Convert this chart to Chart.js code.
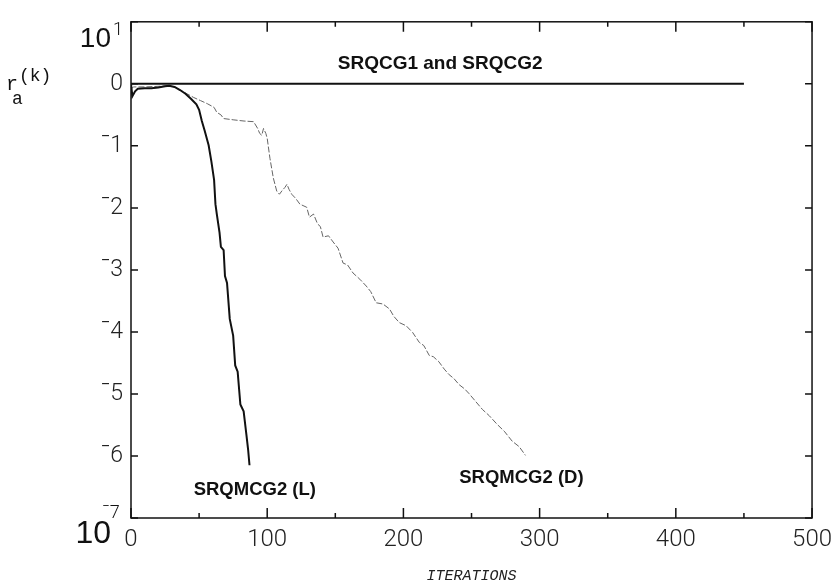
<!DOCTYPE html>
<html>
<head>
<meta charset="utf-8">
<script src="https://cdn.jsdelivr.net/npm/chart.js@4"></script>
<style>
  html, body { margin: 0; padding: 0; background: #fff; }
  canvas { display: block; }
</style>
</head>
<body>
<canvas id="chart" width="840" height="587"></canvas>
<script>
// [iteration, log10 of residual]
const seriesCG = [[0, 0], [100, 0], [200, 0], [300, 0], [450, 0]];

const seriesL = [
  [0, 0], [1, -0.2], [3, -0.12], [5, -0.08], [10, -0.07], [15, -0.07], [20, -0.06],
  [25, -0.04], [28, -0.03], [32, -0.05], [36, -0.1], [40, -0.16], [44, -0.24],
  [48, -0.33], [50, -0.42], [52, -0.6], [54, -0.75], [57, -0.99], [59, -1.25],
  [61, -1.55], [62, -1.94], [63, -2.1], [65, -2.4], [66, -2.63], [68, -2.68],
  [69, -3.1], [70.5, -3.21], [72.5, -3.79], [75, -4.06], [76.5, -4.54], [78.3, -4.64],
  [80.3, -5.17], [82.7, -5.28], [84.7, -5.65], [86, -5.9], [87, -6.15]
];

const seriesD = [
  [0, -0.08], [2, -0.05], [10, -0.05], [20, -0.04],
  [28, -0.03], [32, -0.05], [36, -0.1], [41, -0.16], [46, -0.22], [51, -0.27],
  [56, -0.32], [61, -0.38], [63, -0.46], [66, -0.5], [68, -0.56], [75, -0.58],
  [83, -0.6], [90, -0.61], [93, -0.72], [94.5, -0.8], [96, -0.83], [97.3, -0.72],
  [99, -0.8], [100, -0.88], [102, -1.2], [104.5, -1.52], [107, -1.73], [109, -1.78],
  [111, -1.72], [113, -1.67], [114.5, -1.62], [116, -1.7], [118, -1.78], [121, -1.85],
  [124, -1.94], [127, -1.97], [129, -1.99], [131, -2.15], [134, -2.1], [137, -2.26],
  [139, -2.3], [141, -2.47], [145, -2.45], [148.4, -2.55], [152, -2.65], [155.7, -2.89],
  [159, -2.92], [163, -3.05], [168, -3.15], [172.7, -3.26], [176, -3.35], [180, -3.53],
  [185, -3.55], [189.8, -3.63], [193, -3.75], [197, -3.85], [202, -3.9], [206.8, -4.01],
  [211.7, -4.17], [215, -4.22], [219, -4.38], [222, -4.4], [226, -4.48], [230, -4.6],
  [233.6, -4.69], [237, -4.75], [240.9, -4.85], [245, -4.92], [248, -4.99], [253, -5.12],
  [258, -5.25], [263, -5.35], [268.8, -5.49], [274, -5.6], [279.8, -5.76], [285, -5.85],
  [289.6, -5.99]
];

const xMajorTicks = [0, 100, 200, 300, 400, 500];
const xMinorTicks = [50, 150, 250, 350, 450];
const yTickExps = [1, 0, -1, -2, -3, -4, -5, -6, -7];
const yTickLabels = ['1', '0', '\u00AF1', '\u00AF2', '\u00AF3', '\u00AF4', '\u00AF5', '\u00AF6', '\u00AF7'];

// curve labels, anchored in data space: [text, iteration, log10 residual]
const curveLabels = [
  ['SRQCG1 and SRQCG2', 227, 0.33],
  ['SRQMCG2 (L)', 46, -6.55],
  ['SRQMCG2 (D)', 241, -6.36]
];

const toPoints = s => s.map(([it, e]) => ({x: it, y: Math.pow(10, e)}));
const thin = "Roboto, 'Liberation Sans', sans-serif";

const framePlugin = {
  id: 'frame',
  afterDraw(chart) {
    const ctx = chart.ctx;
    const {left, right, top, bottom} = chart.chartArea;
    const xs = chart.scales.x, ys = chart.scales.y;
    ctx.save();
    ctx.strokeStyle = '#111';
    ctx.lineWidth = 1.5;
    ctx.strokeRect(left, top, right - left, bottom - top);

    ctx.beginPath();
    xMajorTicks.forEach(v => {
      const px = xs.getPixelForValue(v);
      ctx.moveTo(px, bottom); ctx.lineTo(px, bottom - 10);
      ctx.moveTo(px, top); ctx.lineTo(px, top + 10);
    });
    xMinorTicks.forEach(v => {
      const px = xs.getPixelForValue(v);
      ctx.moveTo(px, bottom); ctx.lineTo(px, bottom - 5);
      ctx.moveTo(px, top); ctx.lineTo(px, top + 5);
    });
    yTickExps.forEach(e => {
      const py = ys.getPixelForValue(Math.pow(10, e));
      ctx.moveTo(left, py); ctx.lineTo(left + 7, py);
      ctx.moveTo(right, py); ctx.lineTo(right - 7, py);
    });
    ctx.stroke();

    // 10^1 and 10^-7 end labels
    ctx.fillStyle = '#111';
    ctx.textBaseline = 'alphabetic';
    const yTop = ys.getPixelForValue(Math.pow(10, yTickExps[0]));
    const yBot = ys.getPixelForValue(Math.pow(10, yTickExps[yTickExps.length - 1]));
    ctx.textAlign = 'right';
    ctx.font = '28px "Liberation Sans", Arial, sans-serif';
    ctx.fillText('10', 111, yTop + 25);
    ctx.font = '32px "Liberation Sans", Arial, sans-serif';
    ctx.fillText('10', 111, yBot + 25);
    ctx.textAlign = 'left';
    ctx.font = '300 18px ' + thin;
    ctx.fillText(yTickLabels[0], 113, yTop + 13);
    ctx.fillText(yTickLabels[yTickLabels.length - 1], 102, yBot);

    // curve labels
    ctx.textBaseline = 'middle';
    curveLabels.forEach(([t, it, e], i) => {
      ctx.font = (i === 0 ? 'bold 19px' : 'bold 18.5px') + ' "Liberation Sans", Arial, sans-serif';
      ctx.textAlign = i === 0 ? 'center' : 'left';
      ctx.fillText(t, xs.getPixelForValue(it), ys.getPixelForValue(Math.pow(10, e)));
    });

    // y axis title r_a^(k)
    ctx.textAlign = 'left';
    ctx.textBaseline = 'alphabetic';
    ctx.font = '20px "Liberation Mono", "Courier New", monospace';
    ctx.fillText('r', 6, 90);
    ctx.font = '18px "Liberation Mono", "Courier New", monospace';
    ctx.fillText('a', 12, 104);
    ctx.fillText('(k)', 19, 81);
    ctx.restore();
  }
};

new Chart(document.getElementById('chart').getContext('2d'), {
  type: 'line',
  data: {
    datasets: [
      {
        label: 'SRQCG1 and SRQCG2',
        data: toPoints(seriesCG),
        borderColor: '#111',
        borderWidth: 2
      },
      {
        label: 'SRQMCG2 (L)',
        data: toPoints(seriesL),
        borderColor: '#111',
        borderWidth: 2
      },
      {
        label: 'SRQMCG2 (D)',
        data: toPoints(seriesD),
        borderColor: '#666',
        borderWidth: 1,
        borderDash: [6, 2]
      }
    ]
  },
  options: {
    responsive: false,
    animation: false,
    elements: {
      point: {radius: 0},
      line: {tension: 0}
    },
    layout: {padding: {top: 15, right: 25, left: 0, bottom: 0}},
    plugins: {
      legend: {display: false},
      tooltip: {enabled: false}
    },
    scales: {
      x: {
        type: 'linear',
        min: 0,
        max: 500,
        grid: {display: false, drawTicks: false},
        border: {display: false},
        afterBuildTicks: s => { s.ticks = xMajorTicks.map(v => ({value: v})); },
        afterFit: s => { s.height = 69; },
        ticks: {
          padding: 8,
          color: '#222',
          font: {family: thin, size: 24, weight: 300},
          maxRotation: 0
        },
        title: {
          display: true,
          text: 'ITERATIONS',
          color: '#222',
          font: {family: "'Liberation Mono', 'Courier New', monospace", size: 15, style: 'italic'},
          padding: {top: 0, bottom: 2}
        }
      },
      y: {
        type: 'logarithmic',
        min: Math.pow(10, -7),
        max: Math.pow(10, 1),
        grid: {display: false, drawTicks: false},
        border: {display: false},
        afterBuildTicks: s => { s.ticks = yTickExps.map(e => ({value: Math.pow(10, e)})); },
        afterFit: s => { s.width = 131; },
        ticks: {
          padding: 8,
          color: '#222',
          font: {family: thin, size: 23, weight: 300},
          callback: (v, i) => (i === 0 || i === yTickExps.length - 1) ? '' : yTickLabels[i]
        }
      }
    }
  },
  plugins: [framePlugin]
});
</script>
</body>
</html>
